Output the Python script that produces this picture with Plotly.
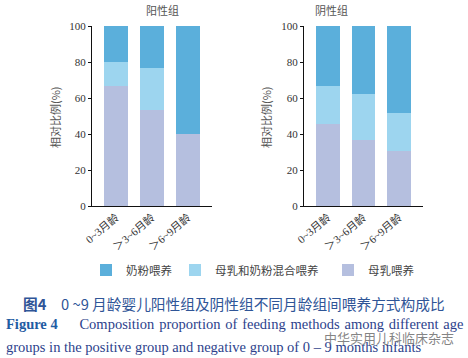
import plotly.graph_objects as go

# ---------------- data ----------------
age_groups = ["0~3月龄", "＞3~6月龄", "＞6~9月龄"]
series_names = ["母乳喂养", "母乳和奶粉混合喂养", "奶粉喂养"]

positive_breast = [66.7, 53.3, 40.0]
positive_mixed = [13.3, 23.4, 0.0]
positive_formula = [20.0, 23.3, 60.0]

negative_breast = [45.8, 36.7, 30.7]
negative_mixed = [20.8, 25.3, 20.8]
negative_formula = [33.4, 38.0, 48.5]

panel_titles = ["阳性组", "阴性组"]
y_ticks = [0, 20, 40, 60, 80, 100]

colors = {"母乳喂养": "#b5bfdf", "母乳和奶粉混合喂养": "#9dd5ef", "奶粉喂养": "#5bafdb"}
legend_ids = {"奶粉喂养": "legend", "母乳和奶粉混合喂养": "legend2", "母乳喂养": "legend3"}

W, H = 468, 358

def px_x(x):
    return x / W

def px_y(y):
    return (H - y) / H

fig = go.Figure()

groups = [
    ("x", "y", [positive_breast, positive_mixed, positive_formula], True),
    ("x2", "y2", [negative_breast, negative_mixed, negative_formula], False),
]
for xa, ya, vals, show in groups:
    for name, v in zip(series_names, vals):
        fig.add_trace(go.Bar(
            x=list(range(len(age_groups))), y=v, name=name,
            xaxis=xa, yaxis=ya, width=0.66,
            marker=dict(color=colors[name], line=dict(width=0)),
            showlegend=show, legendgroup=name, legend=legend_ids[name],
        ))

serif = "Liberation Serif, Noto Sans CJK SC, serif"
line_common = dict(showline=True, linecolor="#111", linewidth=1, showgrid=False, zeroline=False,
                   automargin=False, tickfont=dict(family=serif, size=11, color="#333"))
xcommon = dict(range=[-0.67, 2.67], tickvals=[0, 1, 2], ticktext=age_groups, tickangle=-40,
               ticks="", **line_common)
ycommon = dict(range=[0, 100], tickvals=y_ticks, ticks="outside", ticklen=3, tickcolor="#111", **line_common)
ydom = [px_y(206), px_y(26)]

leg_font = dict(family="Noto Sans CJK SC", size=11.5, color="#444")
def leg(xpx):
    return dict(orientation="h", x=px_x(xpx), xanchor="left", y=px_y(270), yanchor="middle",
                font=leg_font, bgcolor="rgba(0,0,0,0)")

fig.update_layout(
    template="none",
    width=W, height=H, margin=dict(l=0, r=0, t=0, b=0, autoexpand=False),
    paper_bgcolor="white", plot_bgcolor="white",
    barmode="stack", showlegend=True,
    xaxis=dict(domain=[px_x(92), px_x(212)], anchor="y", **xcommon),
    yaxis=dict(domain=ydom, anchor="x", **ycommon),
    xaxis2=dict(domain=[px_x(304), px_x(423)], anchor="y2", **xcommon),
    yaxis2=dict(domain=ydom, anchor="x2", **ycommon),
    legend=leg(86), legend2=leg(175), legend3=leg(328),
)

ann = []
for t, cx in zip(panel_titles, [144, 350]):
    ann.append(dict(text=t, x=px_x(cx), y=px_y(10), xref="paper", yref="paper", yanchor="middle",
                    showarrow=False, font=dict(family="Noto Sans CJK SC", size=11, color="#555")))
for cx in [55, 266]:
    ann.append(dict(text="相对比例(%)", x=px_x(cx), y=px_y(117), xref="paper", yref="paper",
                    xanchor="center", yanchor="middle",
                    textangle=-90, showarrow=False, font=dict(family="Noto Sans CJK SC", size=11, color="#555")))

cap_color = "#2f5597"
ann.append(dict(text="<b>图4</b>　0 ~9 月龄婴儿阳性组及阴性组不同月龄组间喂养方式构成比",
                x=px_x(21), y=px_y(303), xref="paper", yref="paper", xanchor="left", yanchor="middle",
                showarrow=False, font=dict(family="Noto Sans CJK SC", size=14.7, color=cap_color)))
hs = " \u200a"
line2_words = ["Composition", "proportion", "of", "feeding", "methods", "among", "different", "age"]
ann.append(dict(text="<b><span style='color:#1f5ca3'>Figure 4</span></b>      " + hs.join(line2_words),
                x=px_x(4), y=px_y(324), xref="paper", yref="paper", xanchor="left", yanchor="middle",
                showarrow=False, font=dict(family="Liberation Serif", size=14.5, color="#2d3f8c")))
ann.append(dict(text="groups in the positive group and negative group of 0 – 9 months infants",
                x=px_x(4), y=px_y(347), xref="paper", yref="paper", xanchor="left", yanchor="middle",
                showarrow=False, font=dict(family="Liberation Serif", size=14.5, color="#2d3f8c")))
ann.append(dict(text="中华实用儿科临床杂志",
                x=px_x(456), y=px_y(337), xref="paper", yref="paper", xanchor="right", yanchor="middle",
                showarrow=False, font=dict(family="Noto Sans CJK SC", size=13, color="rgba(110,110,110,0.85)")))
fig.update_layout(annotations=ann)

fig.write_html("out.html", config={"displayModeBar": False},
               post_script="document.body.style.margin='0';document.body.style.overflow='hidden';")
